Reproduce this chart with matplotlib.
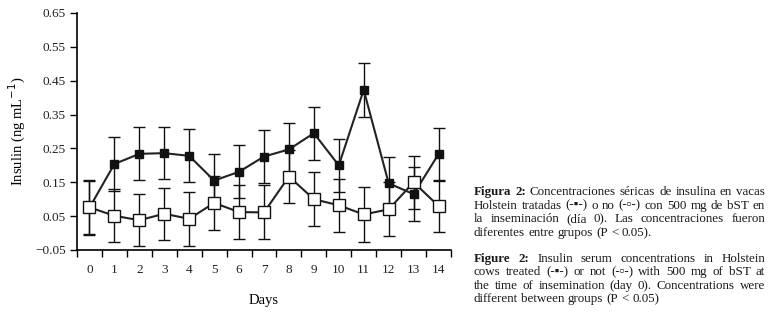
import numpy as np
import matplotlib
matplotlib.use("Agg")
import matplotlib.pyplot as plt

# data
days = list(range(15))
treated = [0.075, 0.204, 0.234, 0.236, 0.228, 0.155, 0.181, 0.226, 0.247, 0.295,
           0.200, 0.423, 0.147, 0.115, 0.233]
treated_err = [0.08, 0.08, 0.078, 0.077, 0.078, 0.078, 0.078, 0.077, 0.077, 0.078,
               0.078, 0.079, 0.079, 0.08, 0.078]
control = [0.076, 0.051, 0.038, 0.057, 0.042, 0.089, 0.062, 0.061, 0.167, 0.100,
           0.082, 0.055, 0.070, 0.150, 0.080]
control_err = [0.08, 0.078, 0.077, 0.077, 0.079, 0.08, 0.079, 0.08, 0.079, 0.079,
               0.078, 0.08, 0.08, 0.078, 0.078]
yticks = [-0.05, 0.05, 0.15, 0.25, 0.35, 0.45, 0.55, 0.65]

caption = [
    [("Figura 2:", True), ("Concentraciones séricas de insulina en vacas", False)],
    [("Holstein tratadas (-▪-) o no (-▫-) con 500 mg de bST en", False)],
    [("la inseminación (día 0). Las concentraciones fueron", False)],
    [("diferentes entre grupos (P < 0.05).", False)],
    None,
    [("Figure 2:", True), ("Insulin serum concentrations in Holstein", False)],
    [("cows treated (-▪-) or not (-▫-) with 500 mg of bST at", False)],
    [("the time of insemination (day 0). Concentrations were", False)],
    [("different between groups (P < 0.05)", False)],
]

FAM = ["Liberation Serif", "DejaVu Serif"]
plt.rcParams["font.family"] = FAM
plt.rcParams["axes.unicode_minus"] = True

fig = plt.figure(figsize=(7.7, 3.16), dpi=100)
ax = fig.add_axes([0.1, 0.2089, 0.4857, 0.75])

ax.errorbar(days, treated, yerr=treated_err, fmt="none", ecolor="#111111",
            elinewidth=1, capsize=4, capthick=1, zorder=2)
ax.errorbar(days, control, yerr=control_err, fmt="none", ecolor="#111111",
            elinewidth=1, capsize=4, capthick=1, zorder=2)
ax.plot(days, treated, color="#222222", lw=1.5, marker="s", ms=5.5,
        mfc="#111111", mec="#111111", zorder=3)
ax.plot(days, control, color="#222222", lw=1.5, marker="s", ms=8,
        mfc="white", mec="#111111", mew=1, zorder=4)

ax.set_xlim(-0.5, 14.5)
ax.set_ylim(-0.05, 0.65)
ax.set_yticks(yticks)
ax.set_yticklabels([f"{v:.2f}".replace("-", "\u2212") for v in yticks])
ax.set_xticks(np.arange(-0.5, 15, 1))
ax.set_xticklabels([])
ax.set_xticks(days, minor=True)
ax.set_xticklabels([str(d) for d in days], minor=True)
ax.tick_params(axis="x", which="major", direction="out", length=5, width=1)
ax.tick_params(axis="x", which="minor", length=0, pad=10, labelsize=9.5,
               labelcolor="#222222")
ax.tick_params(axis="y", direction="out", length=5, width=1, pad=3,
               labelsize=9.5, labelcolor="#222222")
for s in ["top", "right"]:
    ax.spines[s].set_visible(False)
for s in ["left", "bottom"]:
    ax.spines[s].set_linewidth(1.2)

ax.set_ylabel("Insulin (ng mL$^{-1}$)", fontsize=10.5, labelpad=5)
ax.set_xlabel("Days", fontsize=10.5, labelpad=13)

# justified caption on the right
renderer = fig.canvas.get_renderer()
x0, x1 = 474, 765
W, H = 770, 316
fs = 9.4
y = 192
step = 13.6


def word_width(w, bold):
    t = fig.text(0, 0, w, fontsize=fs, fontweight="bold" if bold else "normal",
                 family=FAM)
    wd = t.get_window_extent(renderer).width
    t.remove()
    return wd


last_lines = {3, 8}
for i, line in enumerate(caption):
    if line is None:
        y += step * 0.9
        continue
    words = []
    for seg, bold in line:
        for w in seg.split(" "):
            words.append((w, bold))
    widths = [word_width(w, b) for w, b in words]
    if i in last_lines:
        gap = word_width("a b", False) - word_width("ab", False)
    else:
        gap = (x1 - x0 - sum(widths)) / (len(words) - 1)
    x = x0
    for (w, b), wd in zip(words, widths):
        fig.text(x / W, 1 - y / H, w, fontsize=fs, family=FAM,
                 fontweight="bold" if b else "normal", va="center", ha="left",
                 color="#1a1a1a")
        x += wd + gap
    y += step

fig.savefig("out.png", dpi=100)
